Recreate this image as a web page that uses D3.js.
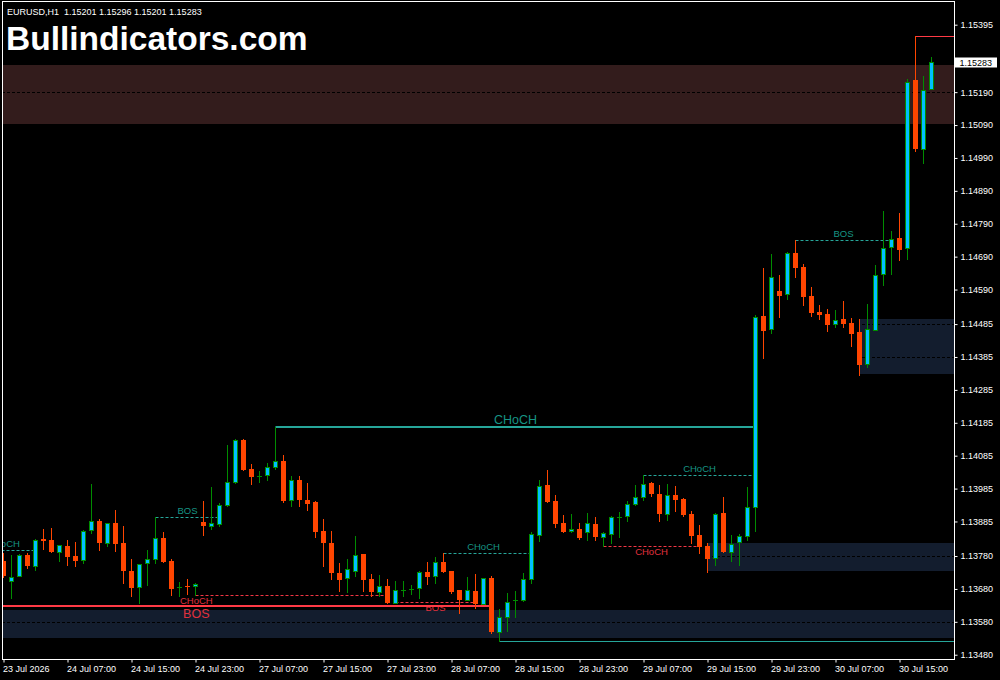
<!DOCTYPE html>
<html>
<head>
<meta charset="utf-8">
<script src="https://cdn.jsdelivr.net/npm/d3@7/dist/d3.min.js"></script>
<style>
  html, body { margin: 0; padding: 0; background: #000; }
  svg { display: block; }
  text { font-family: "Liberation Sans", Arial, sans-serif; }
</style>
</head>
<body>
<svg id="chart" width="1000" height="680"></svg>
<script>
// ---------------- DATA ----------------
const symbolInfo = "EURUSD,H1  1.15201 1.15296 1.15201 1.15283";
const watermark = "Bullindicators.com";
const lastPrice = 1.15283;

const open = [
1.13765,1.13705,1.13720,1.13783,1.13751,1.13833,1.13829,1.13793,1.13810,1.13780,
1.13767,1.13858,1.13886,1.13820,1.13880,1.13820,1.13734,1.13685,1.13758,1.13770,
1.13834,1.13765,1.13687,1.13689,1.13688,1.13883,1.13872,1.13878,1.13934,1.14004,
1.14132,1.14044,1.14023,1.14025,1.14050,1.14068,1.13949,1.14010,1.13949,1.13944,
1.13856,1.13820,1.13727,1.13712,1.13735,1.13785,1.13710,1.13672,1.13689,1.13638,
1.13678,1.13680,1.13682,1.13730,1.13718,1.13762,1.13734,1.13676,1.13647,1.13674,
1.13635,1.13712,1.13549,1.13594,1.13645,1.13645,1.13709,1.13845,1.13996,1.13947,
1.13880,1.13855,1.13862,1.13852,1.13877,1.13837,1.13848,1.13900,1.13901,1.13937,
1.13958,1.14002,1.13968,1.13907,1.13965,1.13953,1.13908,1.13843,1.13810,1.13773,
1.13911,1.13793,1.13822,1.13840,1.13928,1.14510,1.14469,1.14585,1.14576,1.14700,
1.14658,1.14570,1.14522,1.14516,1.14484,1.14501,1.14487,1.14461,1.14364,1.14467,
1.14636,1.14718,1.14746,1.14715,1.15227,1.15016,1.15201];

const high = [
1.13789,1.13783,1.13785,1.13788,1.13831,1.13862,1.13865,1.13813,1.13829,1.13823,
1.13859,1.13999,1.13893,1.13880,1.13920,1.13871,1.13771,1.13756,1.13798,1.13898,
1.13853,1.13770,1.13701,1.13709,1.13699,1.13947,1.13990,1.13940,1.14117,1.14135,
1.14136,1.14060,1.14038,1.14063,1.14173,1.14087,1.14022,1.14022,1.14001,1.13947,
1.13893,1.13856,1.13758,1.13771,1.13841,1.13786,1.13725,1.13721,1.13709,1.13703,
1.13703,1.13692,1.13734,1.13762,1.13777,1.13788,1.13735,1.13677,1.13716,1.13725,
1.13713,1.13719,1.13619,1.13668,1.13673,1.13727,1.13853,1.14011,1.14040,1.13965,
1.13905,1.13908,1.13880,1.13911,1.13899,1.13853,1.13901,1.13914,1.13947,1.13996,
1.14025,1.14006,1.13996,1.14000,1.13994,1.13956,1.13917,1.13874,1.13819,1.13910,
1.13959,1.13844,1.13846,1.13990,1.14513,1.14656,1.14698,1.14634,1.14704,1.14740,
1.14667,1.14598,1.14543,1.14531,1.14528,1.14555,1.14504,1.14500,1.14545,1.14664,
1.14829,1.14768,1.14823,1.15229,1.15360,1.15239,1.15296];

const low = [
1.13716,1.13653,1.13719,1.13744,1.13738,1.13802,1.13792,1.13766,1.13753,1.13751,
1.13760,1.13851,1.13798,1.13810,1.13796,1.13699,1.13659,1.13636,1.13693,1.13758,
1.13762,1.13662,1.13658,1.13664,1.13661,1.13844,1.13861,1.13871,1.13932,1.14002,
1.14040,1.14000,1.14006,1.14012,1.14044,1.13945,1.13933,1.13933,1.13921,1.13839,
1.13751,1.13710,1.13675,1.13672,1.13719,1.13675,1.13658,1.13658,1.13638,1.13639,
1.13659,1.13665,1.13653,1.13694,1.13699,1.13731,1.13669,1.13606,1.13646,1.13621,
1.13634,1.13547,1.13522,1.13553,1.13594,1.13644,1.13699,1.13826,1.13943,1.13869,
1.13853,1.13852,1.13832,1.13830,1.13828,1.13810,1.13819,1.13839,1.13887,1.13936,
1.13950,1.13963,1.13887,1.13890,1.13918,1.13903,1.13820,1.13790,1.13732,1.13753,
1.13792,1.13766,1.13753,1.13829,1.13857,1.14383,1.14457,1.14506,1.14562,1.14629,
1.14544,1.14511,1.14501,1.14465,1.14477,1.14477,1.14419,1.14331,1.14355,1.14466,
1.14603,1.14638,1.14681,1.14682,1.15012,1.14976,1.15201];

const close = [
1.13720,1.13715,1.13783,1.13751,1.13828,1.13827,1.13793,1.13813,1.13778,1.13766,
1.13855,1.13886,1.13820,1.13879,1.13817,1.13735,1.13684,1.13755,1.13770,1.13834,
1.13763,1.13681,1.13687,1.13688,1.13694,1.13871,1.13879,1.13934,1.14004,1.14132,
1.14041,1.14020,1.14023,1.14050,1.14068,1.13947,1.14010,1.13951,1.13939,1.13854,
1.13820,1.13729,1.13708,1.13740,1.13784,1.13708,1.13672,1.13689,1.13638,1.13676,
1.13678,1.13680,1.13730,1.13717,1.13761,1.13732,1.13672,1.13647,1.13676,1.13635,
1.13712,1.13549,1.13596,1.13639,1.13645,1.13709,1.13846,1.13992,1.13945,1.13878,
1.13854,1.13862,1.13835,1.13880,1.13839,1.13849,1.13898,1.13900,1.13937,1.13958,
1.13998,1.13969,1.13909,1.13965,1.13950,1.13905,1.13842,1.13808,1.13772,1.13907,
1.13793,1.13816,1.13840,1.13928,1.14506,1.14465,1.14629,1.14571,1.14700,1.14656,
1.14568,1.14520,1.14513,1.14483,1.14497,1.14486,1.14456,1.14362,1.14469,1.14635,
1.14715,1.14745,1.14711,1.15222,1.15018,1.15198,1.15283];

const timeTickBars = [0,8,16,24,32,40,48,56,64,72,80,88,96,104,112];
const timeTickLabels = ["23 Jul 2026","24 Jul 07:00","24 Jul 15:00","24 Jul 23:00",
  "27 Jul 07:00","27 Jul 15:00","27 Jul 23:00","28 Jul 07:00","28 Jul 15:00",
  "28 Jul 23:00","29 Jul 07:00","29 Jul 15:00","29 Jul 23:00","30 Jul 07:00","30 Jul 15:00"];

const priceTicks = [1.15395,1.15190,1.15090,1.14990,1.14890,1.14790,1.14690,1.14590,
  1.14485,1.14385,1.14285,1.14185,1.14085,1.13985,1.13885,1.13780,1.13680,1.13580,1.13480];

// zones: [top price, bottom price, start bar]
const zoneTop    = [1.15273, 1.13616, 1.13820, 1.14501];
const zoneBottom = [1.15093, 1.13531, 1.13734, 1.14334];
const zoneStart  = [-20, -20, 88, 107];
const zoneKind   = ["supply", "demand", "demand", "demand"];

// minor structure (dashed): level, start bar, end bar, label, label bar, direction
const minorLevel = [1.13797, 1.13898, 1.13661, 1.13639, 1.13788, 1.13810, 1.14025, 1.14740];
const minorStart = [-4, 19, 24, 49, 55, 75, 80, 99];
const minorEnd   = [4, 27, 48, 59, 66, 87, 94, 111];
const minorLabel = ["CHoCH","BOS","CHoCH","BOS","CHoCH","CHoCH","CHoCH","BOS"];
const minorLabelBar = [0, 23, 24.1, 54, 60, 81, 87, 105];
const minorBull  = [true, true, false, false, true, false, true, true];

// major structure (solid)
const majorLevel = [1.13628, 1.14173];
const majorStart = [-13, 34];
const majorEnd   = [61, 94];
const majorLabel = ["BOS", "CHoCH"];
const majorLabelBar = [24.1, 64];
const majorBull  = [false, true];

// swing extremes extended to the right edge
const swingLevel = [1.15360, 1.13522];
const swingStart = [114, 62];
const swingBull  = [false, true];

// ---------------- DRAW ----------------
const W = 1000, H = 680;
const plot = {left: 2, top: 1, right: 954, bottom: 659};
const svg = d3.select("#chart");

const x = d3.scaleLinear().domain([0, 116]).range([3.5, 931.5]);
const y = d3.scaleLinear().domain([1.13467, 1.15464]).range([659, 2]);

const C = {
  bg: "#000000", fg: "#ffffff",
  bullBody: "#00bfff", bullLine: "#008c00", bear: "#ff4500",
  supply: "#331c1c", demand: "#131d2e",
  teal: "#26a69a", tealText: "#179484", red: "#f23645", redText: "#e0313e", redSolid: "#ff3a45"
};

svg.append("rect").attr("width", W).attr("height", H).attr("fill", C.bg);

svg.append("defs").append("clipPath").attr("id", "clip")
  .append("rect").attr("x", plot.left + 1).attr("y", plot.top + 1)
  .attr("width", plot.right - plot.left - 1).attr("height", plot.bottom - plot.top - 1);

const g = svg.append("g").attr("clip-path", "url(#clip)");

// zones
const zones = zoneTop.map((t, i) => ({t, b: zoneBottom[i], s: zoneStart[i], k: zoneKind[i]}));
g.selectAll("rect.zone").data(zones).enter().append("rect")
  .attr("class", "zone")
  .attr("x", d => Math.round(x(d.s) - 0.5))
  .attr("y", d => Math.round(y(d.t)))
  .attr("width", d => plot.right - Math.round(x(d.s) - 0.5))
  .attr("height", d => Math.round(y(d.b)) - Math.round(y(d.t)))
  .attr("fill", d => d.k === "supply" ? C.supply : C.demand);

// grid (black dashed, only visible on the zones)
g.selectAll("line.grid").data(priceTicks).enter().append("line")
  .attr("x1", plot.left).attr("x2", plot.right)
  .attr("y1", d => Math.round(y(d)) + 0.5).attr("y2", d => Math.round(y(d)) + 0.5)
  .attr("stroke", "#000").attr("stroke-width", 1).attr("stroke-dasharray", "3,2");

// minor structure
const minors = minorLevel.map((v, i) => ({v, s: minorStart[i], e: minorEnd[i], l: minorLabel[i], lb: minorLabelBar[i], bull: minorBull[i]}));
g.selectAll("line.minor").data(minors).enter().append("line")
  .attr("x1", d => x(d.s)).attr("x2", d => x(d.e))
  .attr("y1", d => Math.round(y(d.v)) + 0.5).attr("y2", d => Math.round(y(d.v)) + 0.5)
  .attr("stroke", d => d.bull ? C.teal : C.red).attr("stroke-width", 1)
  .attr("stroke-dasharray", "3,2");
g.selectAll("text.minor").data(minors).enter().append("text")
  .attr("x", d => x(d.lb)).attr("y", d => Math.round(y(d.v)) + (d.bull ? -3 : 8.5))
  .attr("text-anchor", "middle").attr("font-size", "9.5px")
  .attr("fill", d => d.bull ? C.tealText : C.redText).text(d => d.l);

// major structure
const majors = majorLevel.map((v, i) => ({v, s: majorStart[i], e: majorEnd[i], l: majorLabel[i], lb: majorLabelBar[i], bull: majorBull[i]}));
g.selectAll("line.major").data(majors).enter().append("line")
  .attr("x1", d => x(d.s)).attr("x2", d => x(d.e))
  .attr("y1", d => Math.round(y(d.v))).attr("y2", d => Math.round(y(d.v)))
  .attr("stroke", d => d.bull ? C.teal : C.redSolid).attr("stroke-width", 2);
g.selectAll("text.major").data(majors).enter().append("text")
  .attr("x", d => x(d.lb)).attr("y", d => Math.round(y(d.v)) + (d.bull ? -3 : 11.5))
  .attr("text-anchor", "middle").attr("font-size", "12.5px")
  .attr("fill", d => d.bull ? C.tealText : C.redText).text(d => d.l);

// swing extension lines
const swings = swingLevel.map((v, i) => ({v, s: swingStart[i], bull: swingBull[i]}));
g.selectAll("line.swing").data(swings).enter().append("line")
  .attr("x1", d => x(d.s)).attr("x2", plot.right)
  .attr("y1", d => Math.round(y(d.v)) + 0.5).attr("y2", d => Math.round(y(d.v)) + 0.5)
  .attr("stroke", d => d.bull ? C.teal : C.redSolid).attr("stroke-width", 1);

// candles
const bars = open.map((o, i) => ({i, o, h: high[i], l: low[i], c: close[i]}));
const cg = g.selectAll("g.bar").data(bars).enter().append("g").attr("class", "bar");
cg.append("line")
  .attr("x1", d => x(d.i)).attr("x2", d => x(d.i))
  .attr("y1", d => Math.round(y(d.h))).attr("y2", d => Math.round(y(d.l)) + 1)
  .attr("stroke", d => d.c >= d.o ? C.bullLine : C.bear).attr("stroke-width", 1);
cg.each(function(d) {
  const sel = d3.select(this);
  const top = Math.round(y(Math.max(d.o, d.c)));
  const bot = Math.round(y(Math.min(d.o, d.c)));
  const cx = x(d.i);
  if (d.c === d.o || (bot - top < 1 && d.c > d.o)) {
    sel.append("line").attr("x1", cx - 2.5).attr("x2", cx + 2.5)
      .attr("y1", top + 0.5).attr("y2", top + 0.5)
      .attr("stroke", C.bullLine).attr("stroke-width", 1);
  } else if (d.c > d.o) {
    sel.append("rect").attr("x", cx - 2).attr("y", top + 0.5)
      .attr("width", 4).attr("height", Math.max(bot - top, 1))
      .attr("fill", C.bullBody).attr("stroke", C.bullLine).attr("stroke-width", 1);
  } else {
    sel.append("rect").attr("x", cx - 2.5).attr("y", top)
      .attr("width", 5).attr("height", Math.max(bot - top, 1))
      .attr("fill", C.bear);
  }
});

// frame
svg.append("rect").attr("x", plot.left + 0.5).attr("y", plot.top + 0.5)
  .attr("width", plot.right - plot.left).attr("height", plot.bottom - plot.top)
  .attr("fill", "none").attr("stroke", C.fg).attr("stroke-width", 1);

// right price axis
const yAxis = d3.axisRight(y).tickValues(priceTicks).tickFormat(d3.format(".5f"))
  .tickSizeInner(3).tickSizeOuter(0).tickPadding(3);
const ya = svg.append("g").attr("transform", `translate(${plot.right + 0.5},0)`).call(yAxis);
ya.select(".domain").remove();
ya.selectAll(".tick line").attr("stroke", C.fg);
ya.selectAll(".tick text").attr("fill", C.fg).attr("font-size", "9px")
  .attr("font-family", "'Liberation Sans', Arial, sans-serif");

// current price label
const py = Math.round(y(lastPrice));
svg.append("rect").attr("x", 955).attr("y", py - 4.5).attr("width", 42).attr("height", 10)
  .attr("fill", "#ffffff");
svg.append("text").attr("x", 959.5).attr("y", py + 3.5).attr("font-size", "9px")
  .attr("fill", "#000").text(d3.format(".5f")(lastPrice));

// bottom time axis
const xAxis = d3.axisBottom(x).tickValues(timeTickBars)
  .tickFormat((d, i) => timeTickLabels[i]).tickSizeInner(3).tickSizeOuter(0).tickPadding(3);
const xa = svg.append("g").attr("transform", `translate(0,${plot.bottom + 0.5})`).call(xAxis);
xa.select(".domain").remove();
xa.selectAll(".tick line").attr("stroke", C.fg);
xa.selectAll(".tick text").attr("fill", C.fg).attr("font-size", "9px")
  .attr("text-anchor", "start").attr("x", -1)
  .attr("font-family", "'Liberation Sans', Arial, sans-serif");

// header texts
svg.append("text").attr("x", 7).attr("y", 14.5).attr("font-size", "9px")
  .attr("fill", C.fg).style("white-space", "pre").attr("xml:space", "preserve").text(symbolInfo);
svg.append("text").attr("x", 6).attr("y", 50).attr("font-size", "33.5px")
  .attr("font-weight", "bold").attr("fill", C.fg).text(watermark);
</script>
</body>
</html>
